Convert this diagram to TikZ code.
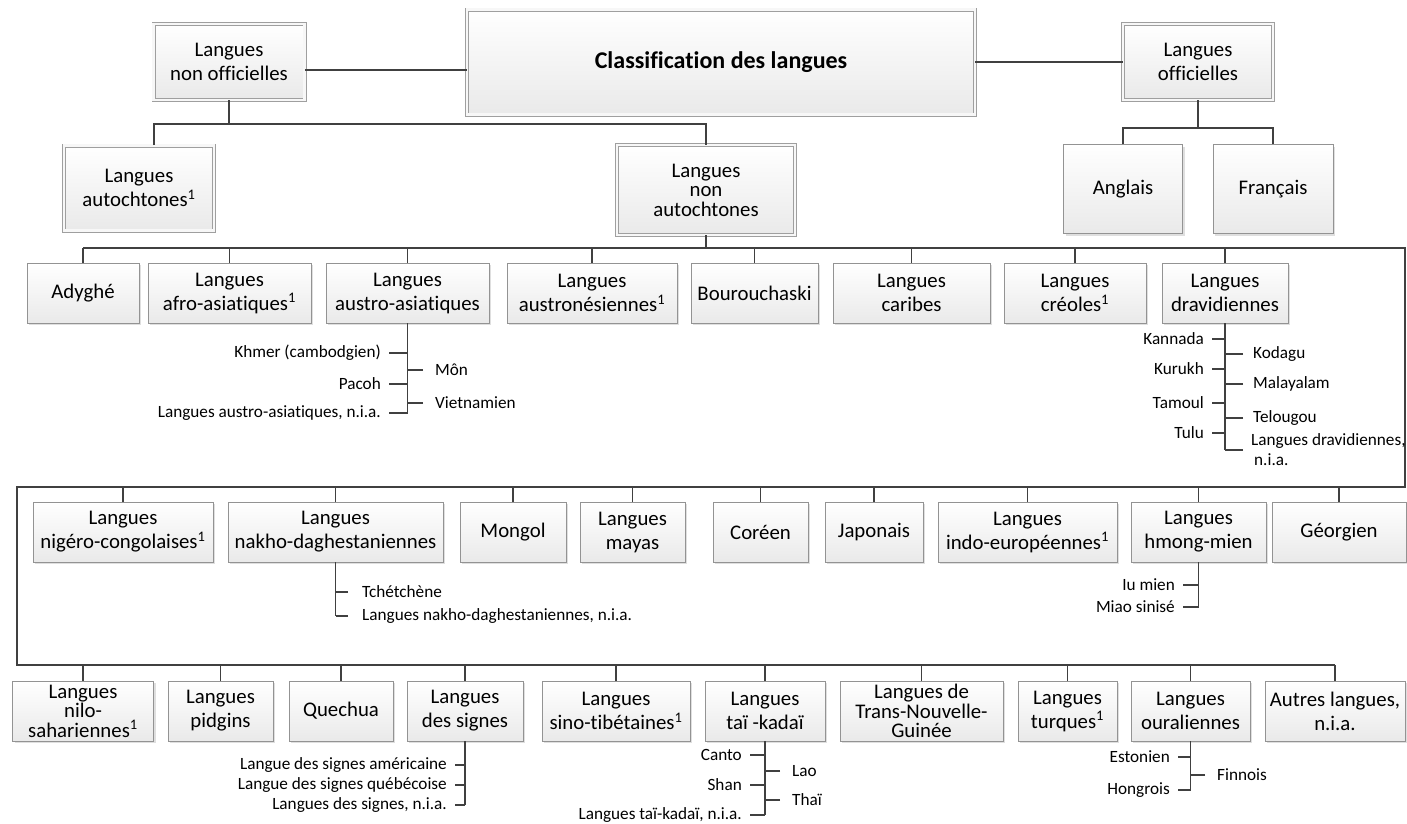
\documentclass[tikz,border=0pt]{standalone}
\usepackage{fontspec}
\setmainfont{Carlito}[Ligatures={TeX,NoCommon}]
\usetikzlibrary{shadows}

\newcommand{\boitefont}{\fontsize{20.8}{24}\selectfont}
\newcommand{\serrefont}{\fontsize{20.8}{19.5}\selectfont}
\newcommand{\titrefont}{\fontsize{24}{28}\selectfont\bfseries}
\newcommand{\petitfont}{\fontsize{17.2}{20}\selectfont}
\newcommand{\noteun}{\textsuperscript{1}}

\begin{document}
\begin{tikzpicture}[x=1pt,y=-1pt,
    boite/.style={draw=gray!85, line width=0.8pt, top color=white, bottom color=gray!17,
      align=center, font=\boitefont, minimum height=60, inner sep=2pt,
      drop shadow={shadow xshift=2pt, shadow yshift=-2pt, opacity=0.25}},
    boitedouble/.style={boite, draw=gray!75, double=gray!6, double distance=2.4pt},
    lien/.style={draw=black!75, line width=1.5pt},
    bus/.style={draw=black!75, line width=2.2pt},
    tige/.style={draw=black!75, line width=1.3pt},
    sousg/.style={font=\petitfont, anchor=east, inner xsep=8pt, inner ysep=0pt},
    sousd/.style={font=\petitfont, anchor=west, inner xsep=12pt, inner ysep=0pt, align=left}]
  \useasboundingbox (0,0) rectangle (1407,823);

  \node[boitedouble, minimum width=508, minimum height=105, font=\titrefont] (titre) at (721,62) {Classification des langues};
  \node[boitedouble, minimum width=151, minimum height=76] (nonoff) at (229,62) {Langues\\non officielles};
  \node[boitedouble, minimum width=150, minimum height=76] (off) at (1198,62) {Langues\\officielles};
  \node[boitedouble, minimum width=150, minimum height=85] (autoch) at (139,188) {Langues\\autochtones\noteun};
  \node[boitedouble, minimum width=178, minimum height=90, font=\serrefont] (nonaut) at (706,190) {Langues\\non\\autochtones};
  \node[boite, minimum width=119, minimum height=89] (anglais) at (1123,189) {Anglais};
  \node[boite, minimum width=120, minimum height=89] (francais) at (1273,189) {Français};

  \draw[lien] ([yshift=-8]nonoff.east) -- ([yshift=-8]titre.west);
  \draw[lien] (titre.east) -- (off.west);
  \coordinate (j1) at (229,124);
  \draw[lien] (nonoff.south) -- (j1);
  \draw[lien] ([xshift=15]autoch.north) |- (j1) -| (nonaut.north);
  \coordinate (j2) at (1198,128);
  \draw[lien] (off.south) -- (j2);
  \draw[lien] (anglais.north) |- (j2) -| (francais.north);

  % rangee 1
  \node[boite, minimum width=112] (adyghe) at (83,293) {Adyghé};
  \node[boite, minimum width=163] (afro) at (229.5,293) {Langues\\afro-asiatiques\noteun};
  \node[boite, minimum width=163] (austroas) at (407.5,293) {Langues\\austro-asiatiques};
  \node[boite, minimum width=170] (austron) at (592,293) {Langues\\austronésiennes\noteun};
  \node[boite, minimum width=127] (bourou) at (754.5,293) {Bourouchaski};
  \node[boite, minimum width=157] (caribes) at (911.5,293) {Langues\\caribes};
  \node[boite, minimum width=142] (creoles) at (1075,293) {Langues\\créoles\noteun};
  \node[boite, minimum width=126] (dravid) at (1225,293) {Langues\\dravidiennes};

  % rangee 2
  \node[boite, minimum width=180] (nigero) at (123,532) {Langues\\nigéro-congolaises\noteun};
  \node[boite, minimum width=215] (nakho) at (335.5,532) {Langues\\nakho-daghestaniennes};
  \node[boite, minimum width=106] (mongol) at (513,532) {Mongol};
  \node[boite, minimum width=105] (mayas) at (632.5,532) {Langues\\mayas};
  \node[boite, minimum width=95] (coreen) at (760.5,532) {Coréen};
  \node[boite, minimum width=98] (japonais) at (874,532) {Japonais};
  \node[boite, minimum width=179] (indo) at (1027.5,532) {Langues\\indo-européennes\noteun};
  \node[boite, minimum width=135] (hmong) at (1198.5,532) {Langues\\hmong-mien};
  \node[boite, minimum width=134] (georgien) at (1339,532) {Géorgien};

  % rangee 3
  \node[boite, minimum width=141, font=\serrefont] (nilo) at (83,711) {Langues\\nilo-\\sahariennes\noteun};
  \node[boite, minimum width=105] (pidgins) at (220.5,711) {Langues\\pidgins};
  \node[boite, minimum width=104] (quechua) at (341,711) {Quechua};
  \node[boite, minimum width=116] (signes) at (465,711) {Langues\\des signes};
  \node[boite, minimum width=148] (sino) at (616,711) {Langues\\sino-tibétaines\noteun};
  \node[boite, minimum width=120] (taikadai) at (765,711) {Langues\\taï -kadaï};
  \node[boite, minimum width=163, font=\serrefont] (trans) at (921.5,711) {Langues de\\Trans-Nouvelle-\\Guinée};
  \node[boite, minimum width=99] (turques) at (1067.5,711) {Langues\\turques\noteun};
  \node[boite, minimum width=119] (oural) at (1190.5,711) {Langues\\ouraliennes};
  \node[boite, minimum width=140] (autres) at (1335,711) {Autres langues,\\n.i.a.};

  \coordinate (busA) at (1405,248);
  \coordinate (busB) at (1405,487);
  \coordinate (busC) at (17,487);
  \coordinate (busD) at (17,665);
  \draw[bus] (nonaut.south) -- (nonaut.south |- busA);
  \draw[bus] (adyghe.north |- busA) -- (busA) -- (busB) -- (busC) -- (busD) -- (autres.north |- busD);
  \foreach \n in {adyghe,afro,austroas,austron,bourou,caribes,creoles,dravid}
    \draw[lien] (\n.north) -- (\n.north |- busA);
  \foreach \n in {nigero,nakho,mongol,mayas,coreen,japonais,indo,hmong,georgien}
    \draw[lien] (\n.north) -- (\n.north |- busB);
  \foreach \n in {nilo,pidgins,quechua,signes,sino,taikadai,trans,turques,oural,autres}
    \draw[lien] (\n.north) -- (\n.north |- busD);

  % sous-groupes
  \node[sousg] (khmer) at (389,353) {Khmer (cambodgien)};
  \node[sousg] (pacoh) at (389,384) {Pacoh};
  \node[sousg] (aania) at (389,413) {Langues austro-asiatiques, n.i.a.};
  \node[sousd] (mon) at (423,370) {Môn};
  \node[sousd] (vietnam) at (423,403) {Vietnamien};
  \draw[tige] (austroas.south) -- (austroas.south |- aania);
  \foreach \n in {khmer,pacoh,aania,mon,vietnam}
    \draw[tige] (\n) -- (austroas.south |- \n);

  \node[sousg] (kannada) at (1212,339) {Kannada};
  \node[sousg] (kurukh) at (1212,369) {Kurukh};
  \node[sousg] (tamoul) at (1212,403) {Tamoul};
  \node[sousg] (tulu) at (1212,433) {Tulu};
  \node[sousd, inner xsep=10pt] (kodagu) at (1243,354) {Kodagu};
  \node[sousd, inner xsep=10pt] (malayalam) at (1243,384) {Malayalam};
  \node[sousd, inner xsep=10pt] (telougou) at (1243,418) {Telougou};
  \node[sousd, inner xsep=8pt] (dnia) at (1243,450) {Langues dravidiennes,\\\hspace*{3pt}n.i.a.};
  \draw[tige] (dravid.south) -- (dravid.south |- dnia);
  \foreach \n in {kannada,kurukh,tamoul,tulu,kodagu,malayalam,telougou,dnia}
    \draw[tige] (\n) -- (dravid.south |- \n);

  \node[sousd, inner xsep=14pt] (tchet) at (348,592) {Tchétchène};
  \node[sousd, inner xsep=14pt] (nnia) at (348,616) {Langues nakho-daghestaniennes, n.i.a.};
  \draw[tige] (nakho.south) -- (nakho.south |- nnia);
  \foreach \n in {tchet,nnia}
    \draw[tige] (\n) -- (nakho.south |- \n);

  \node[sousg] (iumien) at (1183,585) {Iu mien};
  \node[sousg] (miao) at (1183,607) {Miao sinisé};
  \draw[tige] (hmong.south) -- (hmong.south |- miao);
  \foreach \n in {iumien,miao}
    \draw[tige] (\n) -- (hmong.south |- \n);

  \node[sousg] (lsa) at (455,765) {Langue des signes américaine};
  \node[sousg] (lsq) at (455,785) {Langue des signes québécoise};
  \node[sousg] (snia) at (455,805) {Langues des signes, n.i.a.};
  \draw[tige] (signes.south) -- (signes.south |- snia);
  \foreach \n in {lsa,lsq,snia}
    \draw[tige] (\n) -- (signes.south |- \n);

  \node[sousg] (canto) at (750,755) {Canto};
  \node[sousg] (shan) at (750,785) {Shan};
  \node[sousg] (tknia) at (750,815) {Langues taï-kadaï, n.i.a.};
  \node[sousd] (lao) at (780,771) {Lao};
  \node[sousd] (thai) at (780,800) {Thaï};
  \draw[tige] (taikadai.south) -- (taikadai.south |- tknia);
  \foreach \n in {canto,shan,tknia,lao,thai}
    \draw[tige] (\n) -- (taikadai.south |- \n);

  \node[sousg] (estonien) at (1178,757) {Estonien};
  \node[sousg] (hongrois) at (1178,790) {Hongrois};
  \node[sousd] (finnois) at (1205,775) {Finnois};
  \draw[tige] (oural.south) -- (oural.south |- hongrois);
  \foreach \n in {estonien,hongrois,finnois}
    \draw[tige] (\n) -- (oural.south |- \n);
\end{tikzpicture}
\end{document}
